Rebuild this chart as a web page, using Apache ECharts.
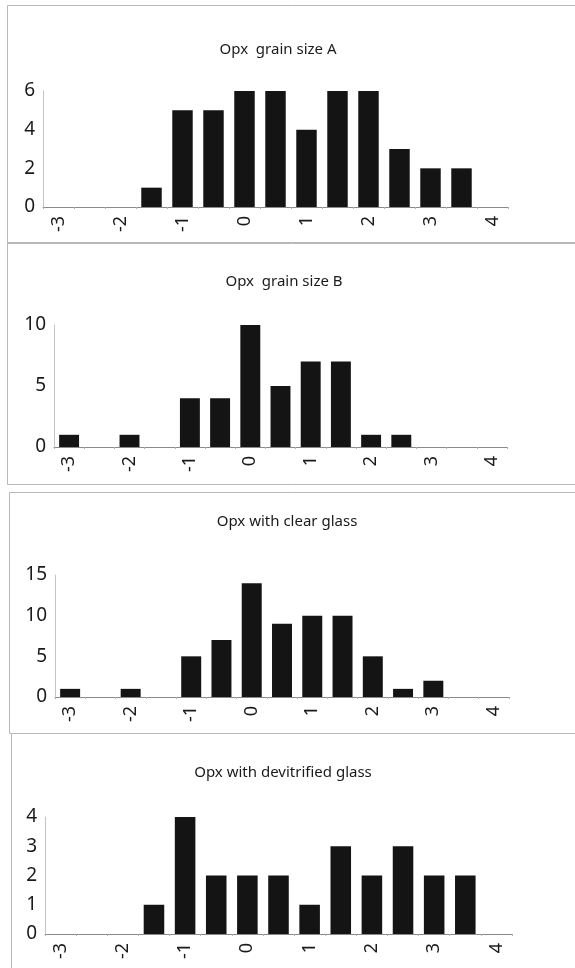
<!DOCTYPE html>
<html>
<head>
<meta charset="utf-8">
<script src="https://cdn.jsdelivr.net/npm/echarts@6/dist/echarts.min.js"></script>
<style>
  html, body { margin: 0; padding: 0; background: #fff; }
  #chart { width: 575px; height: 968px; }
</style>
</head>
<body>
<div id="chart"></div>
<script>
// Half-unit size bins (phi scale) shared by all four histograms
const bins = ['-3', '-2.5', '-2', '-1.5', '-1', '-0.5', '0', '0.5', '1', '1.5', '2', '2.5', '3', '3.5', '4'];

const titles = ['Opx  grain size A', 'Opx  grain size B', 'Opx with clear glass', 'Opx with devitrified glass'];

// Counts per bin
const grainA = [0, 0, 0, 1, 5, 5, 6, 6, 4, 6, 6, 3, 2, 2, 0];
const grainB = [1, 0, 1, 0, 4, 4, 10, 5, 7, 7, 1, 1, 0, 0, 0];
const clearGlass = [1, 0, 1, 0, 5, 7, 14, 9, 10, 10, 5, 1, 2, 0, 0];
const devitrifiedGlass = [0, 0, 0, 1, 4, 2, 2, 2, 1, 3, 2, 3, 2, 2, 0];

const yMax = [6, 10, 15, 4];
const yStep = [2, 5, 5, 1];

const seriesData = [grainA, grainB, clearGlass, devitrifiedGlass];

// Panel frames and plot areas (page pixels)
const frames = [
  { x: 7, y: 5, w: 600, h: 238 },
  { x: 7, y: 242, w: 600, h: 242 },
  { x: 9, y: 492, w: 600, h: 241 },
  { x: 11, y: 733, w: 600, h: 260 }
];
const plots = [
  { left: 43, top: 91, width: 465, height: 116 },
  { left: 54, top: 325, width: 453, height: 122 },
  { left: 55, top: 575, width: 454, height: 122 },
  { left: 45, top: 817, width: 467, height: 117 }
];
const titlePos = [
  { x: 273, y: 45 },
  { x: 279, y: 277 },
  { x: 282, y: 517 },
  { x: 278, y: 768 }
];

const font = "'Noto Sans', 'Liberation Sans', sans-serif";
const chart = echarts.init(document.getElementById('chart'), null, { renderer: 'canvas' });

const option = {
  animation: false,
  backgroundColor: '#fff',
  title: titles.map((t, i) => ({
    text: t,
    left: titlePos[i].x,
    top: titlePos[i].y,
    textAlign: 'center',
    textVerticalAlign: 'middle',
    textStyle: { fontFamily: font, fontSize: 15, fontWeight: 'normal', color: '#1a1a1a' }
  })),
  graphic: frames.map(f => ({
    type: 'rect',
    shape: { x: f.x + 0.5, y: f.y + 0.5, width: f.w, height: f.h },
    style: { fill: 'none', stroke: '#b8b8b8', lineWidth: 1 },
    silent: true,
    z: -1
  })),
  grid: plots.map(p => ({ left: p.left, top: p.top, width: p.width, height: p.height, containLabel: false })),
  xAxis: plots.map((p, i) => ({
    type: 'category',
    gridIndex: i,
    data: bins,
    boundaryGap: true,
    axisLine: { show: true, lineStyle: { color: '#8a8a8a', width: 1 } },
    axisTick: { show: true, interval: 0, length: 2, lineStyle: { color: '#b0b0b0' } },
    axisLabel: {
      interval: 1,
      rotate: 90,
      margin: 9,
      fontFamily: font,
      fontSize: 18,
      color: '#1a1a1a'
    },
    splitLine: { show: false }
  })),
  yAxis: plots.map((p, i) => ({
    type: 'value',
    gridIndex: i,
    min: 0,
    max: yMax[i],
    interval: yStep[i],
    axisLine: { show: true, lineStyle: { color: '#c4c4c4', width: 1 } },
    axisTick: { show: false },
    axisLabel: { margin: 8, fontFamily: font, fontSize: 19, color: '#1a1a1a' },
    splitLine: { show: false }
  })),
  series: seriesData.map((d, i) => ({
    type: 'bar',
    xAxisIndex: i,
    yAxisIndex: i,
    data: d,
    barCategoryGap: '34%',
    itemStyle: { color: '#141414' },
    silent: true
  }))
};

chart.setOption(option);
</script>
</body>
</html>
